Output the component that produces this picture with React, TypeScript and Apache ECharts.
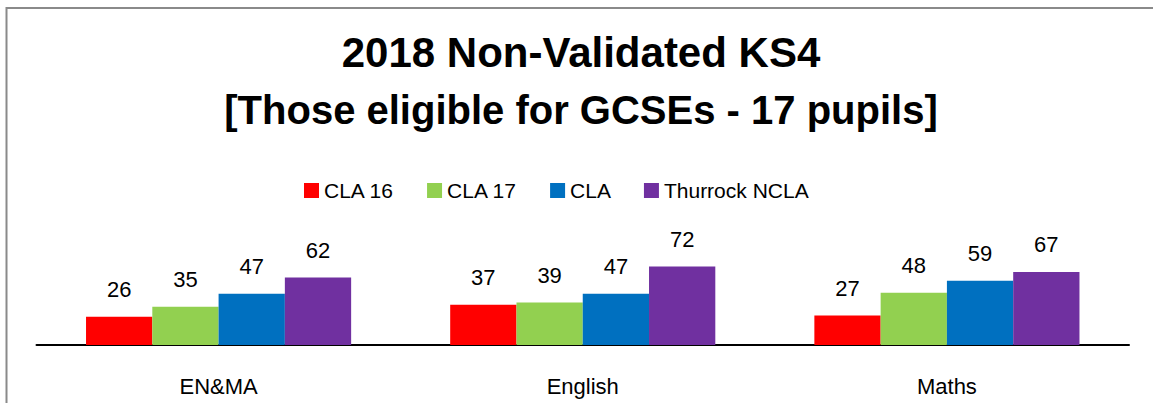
import React, { useEffect, useRef } from "react";
import * as echarts from "echarts";

const categories = ["EN&MA", "English", "Maths"];
const seriesNames = ["CLA 16", "CLA 17", "CLA", "Thurrock NCLA"];
const cla16 = [26, 37, 27];
const cla17 = [35, 39, 48];
const cla = [47, 47, 59];
const thurrockNcla = [62, 72, 67];
const seriesColors = ["#FF0000", "#92D050", "#0070C0", "#7030A0"];
const titleLines = ["2018 Non-Validated KS4", "[Those eligible for GCSEs - 17 pupils]"];

const FONT = "'Liberation Sans', Arial, sans-serif";

export default function App() {
  const ref = useRef<HTMLDivElement>(null);
  useEffect(() => {
    if (!ref.current) return;
    const chart = echarts.init(ref.current, null, { renderer: "svg" });
    const data = [cla16, cla17, cla, thurrockNcla];
    chart.setOption({
      animation: false,
      backgroundColor: "#ffffff",
      title: {
        text: `{a|${titleLines[0]}}\n{b|${titleLines[1]}}`,
        left: 581,
        textAlign: "center",
        top: 23,
        padding: 0,
        textStyle: {
          fontFamily: FONT,
          fontWeight: "bold",
          fontSize: 41,
          lineHeight: 58,
          color: "#000000",
          rich: {
            a: { fontFamily: FONT, fontWeight: "bold", fontSize: 42, lineHeight: 58, color: "#000000" },
            b: { fontFamily: FONT, fontWeight: "bold", fontSize: 40, lineHeight: 58, color: "#000000" },
          },
        },
      },
      legend: {
        left: 304,
        top: 180,
        itemWidth: 15,
        itemHeight: 15,
        itemGap: 33,
        icon: "rect",
        padding: 0,
        textStyle: { fontFamily: FONT, fontSize: 21, color: "#000000" },
        data: seriesNames,
      },
      graphic: [
        {
          type: "rect",
          shape: { x: 6.5, y: 8, width: 1400, height: 600 },
          style: { fill: "none", stroke: "#8a8a8a", lineWidth: 2 },
          silent: true,
          z: 100,
        },
      ],
      grid: { left: 36.5, right: 24, top: 236, bottom: 58 },
      xAxis: {
        type: "category",
        data: categories,
        axisLine: { show: true, lineStyle: { color: "#000000", width: 2 } },
        axisTick: { show: false },
        axisLabel: {
          margin: 30,
          fontFamily: FONT,
          fontSize: 22,
          color: "#000000",
        },
      },
      yAxis: {
        type: "value",
        min: 0,
        max: 100,
        show: false,
        splitLine: { show: false },
      },
      series: seriesNames.map((name, i) => ({
        name,
        type: "bar",
        data: data[i],
        barGap: "0%",
        barCategoryGap: "27.2%",
        itemStyle: { color: seriesColors[i] },
        label: {
          show: true,
          position: "top",
          distance: 16,
          fontFamily: FONT,
          fontSize: 22,
          color: "#000000",
        },
      })),
    });
    return () => chart.dispose();
  }, []);
  return (
    <div
      ref={ref}
      style={{ position: "absolute", left: 0, top: 0, width: 1153, height: 403 }}
    />
  );
}
